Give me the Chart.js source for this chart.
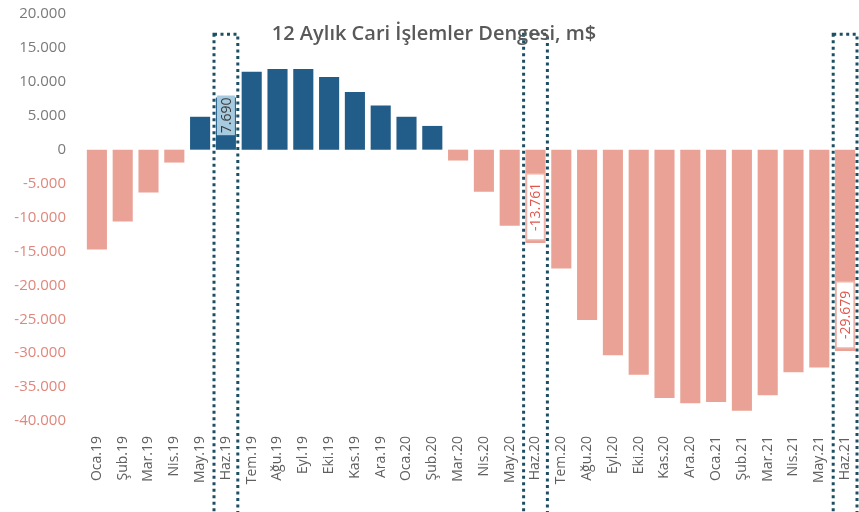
<!DOCTYPE html>
<html>
<head>
<meta charset="utf-8">
<script src="https://cdn.jsdelivr.net/npm/chart.js@4"></script>
<style>
  html, body { margin: 0; padding: 0; background: #fff; }
  #wrap { width: 859px; height: 512px; }
</style>
</head>
<body>
<div id="wrap"><canvas id="cariChart" width="859" height="512"></canvas></div>
<script>
// Aylar
const months = ['Oca.19', 'Şub.19', 'Mar.19', 'Nis.19', 'May.19', 'Haz.19', 'Tem.19', 'Ağu.19', 'Eyl.19', 'Eki.19',
    'Kas.19', 'Ara.19', 'Oca.20', 'Şub.20', 'Mar.20', 'Nis.20', 'May.20', 'Haz.20', 'Tem.20', 'Ağu.20',
    'Eyl.20', 'Eki.20', 'Kas.20', 'Ara.20', 'Oca.21', 'Şub.21', 'Mar.21', 'Nis.21', 'May.21', 'Haz.21'];

// 12 aylık cari denge, milyon $
const balance = [-14700, -10600, -6300, -1900, 4850, 7690, 11500, 11900, 11900, 10700,
    8500, 6500, 4850, 3500, -1600, -6200, -11200, -13761, -17500, -25100,
    -30300, -33200, -36600, -37400, -37200, -38500, -36200, -32800, -32100, -29679];

// cerceveli aylar
const highlighted = ['Haz.19', 'Haz.20', 'Haz.21'];

const yTicks = [20000, 15000, 10000, 5000, 0, -5000, -10000, -15000, -20000, -25000, -30000, -35000, -40000];

const BLUE = '#215d88';
const SALMON = '#e9a295';
const fmt = v => (v < 0 ? '-' : '') + Math.abs(v).toString().replace(/\B(?=(\d{3})+(?!\d))/g, '.');

// baslik, cerceveler ve etiketler
const overlay = {
    id: 'overlay',
    afterDatasetsDraw(chart) {
        const ctx = chart.ctx;
        const x = chart.scales.x, y = chart.scales.y;
        const meta = chart.getDatasetMeta(0);
        const half = (x.getPixelForValue(1) - x.getPixelForValue(0)) / 2;

        // veri etiketleri
        highlighted.forEach(m => {
            const i = months.indexOf(m);
            const bar = meta.data[i];
            const v = balance[i];
            const txt = fmt(v);
            ctx.save();
            ctx.font = '14px "Open Sans"';
            const tw = ctx.measureText(txt).width;
            const boxW = 18;
            let top, boxH, fill, stroke, color;
            if (v >= 0) {
                boxH = tw + 4;
                top = bar.y - 2;
                fill = '#a6cadf'; stroke = null; color = '#3a3a3a';
            } else {
                boxH = tw + 18;
                top = bar.y - boxH - 3;
                fill = '#ffffff'; stroke = '#efb4aa'; color = '#e2564c';
            }
            ctx.fillStyle = fill;
            ctx.fillRect(bar.x - boxW / 2, top, boxW, boxH);
            if (stroke) {
                ctx.strokeStyle = stroke;
                ctx.lineWidth = 1.5;
                ctx.strokeRect(bar.x - boxW / 2, top, boxW, boxH);
            }
            ctx.translate(bar.x, top + boxH / 2);
            ctx.rotate(-Math.PI / 2);
            ctx.fillStyle = color;
            ctx.textAlign = 'center';
            ctx.textBaseline = 'middle';
            ctx.fillText(txt, 0, 1);
            ctx.restore();
        });

        // noktali cerceveler
        ctx.save();
        ctx.strokeStyle = '#1d4f63';
        ctx.lineWidth = 3;
        ctx.setLineDash([3, 3.5]);
        highlighted.forEach(m => {
            const cx = x.getPixelForValue(months.indexOf(m));
            const t = y.getPixelForValue(17000);
            ctx.strokeRect(cx - half + 1, t, half * 2 - 2, chart.height - t + 10);
        });
        ctx.restore();

        // baslik
        ctx.save();
        ctx.font = '600 20px "Open Sans"';
        ctx.fillStyle = '#595959';
        ctx.textAlign = 'center';
        ctx.textBaseline = 'alphabetic';
        ctx.fillText('12 Aylık Cari İşlemler Dengesi, m$', 434, 40);
        ctx.restore();
    }
};

new Chart(document.getElementById('cariChart'), {
    type: 'bar',
    data: {
        labels: months,
        datasets: [{
            data: balance,
            backgroundColor: balance.map(v => v >= 0 ? BLUE : SALMON),
            categoryPercentage: 0.82,
            barPercentage: 0.95
        }]
    },
    options: {
        responsive: false,
        animation: false,
        devicePixelRatio: 1,
        layout: { autoPadding: false, padding: { top: 14, right: 1, left: 0, bottom: 0 } },
        plugins: {
            legend: { display: false },
            title: { display: false },
            tooltip: { enabled: false }
        },
        scales: {
            y: {
                min: -40000,
                max: 20000,
                afterBuildTicks: s => { s.ticks = yTicks.map(v => ({ value: v })); },
                afterFit: s => { s.width = 84; s.paddingTop = 0; s.paddingBottom = 0; },
                grid: { display: false, drawTicks: false },
                border: { display: false },
                ticks: {
                    padding: 18,
                    font: { family: 'Open Sans', size: 15 },
                    color: c => c.tick.value < 0 ? '#e0877c' : '#7a7a7a',
                    callback: v => fmt(v)
                }
            },
            x: {
                afterFit: s => { s.height = 91; s.paddingLeft = 0; s.paddingRight = 0; },
                grid: { display: false, drawTicks: false },
                border: { display: false },
                ticks: {
                    autoSkip: false,
                    minRotation: 90,
                    maxRotation: 90,
                    padding: 15,
                    font: { family: 'Open Sans', size: 14 },
                    color: '#5f5f5f'
                }
            }
        }
    },
    plugins: [overlay]
});
</script>
</body>
</html>
